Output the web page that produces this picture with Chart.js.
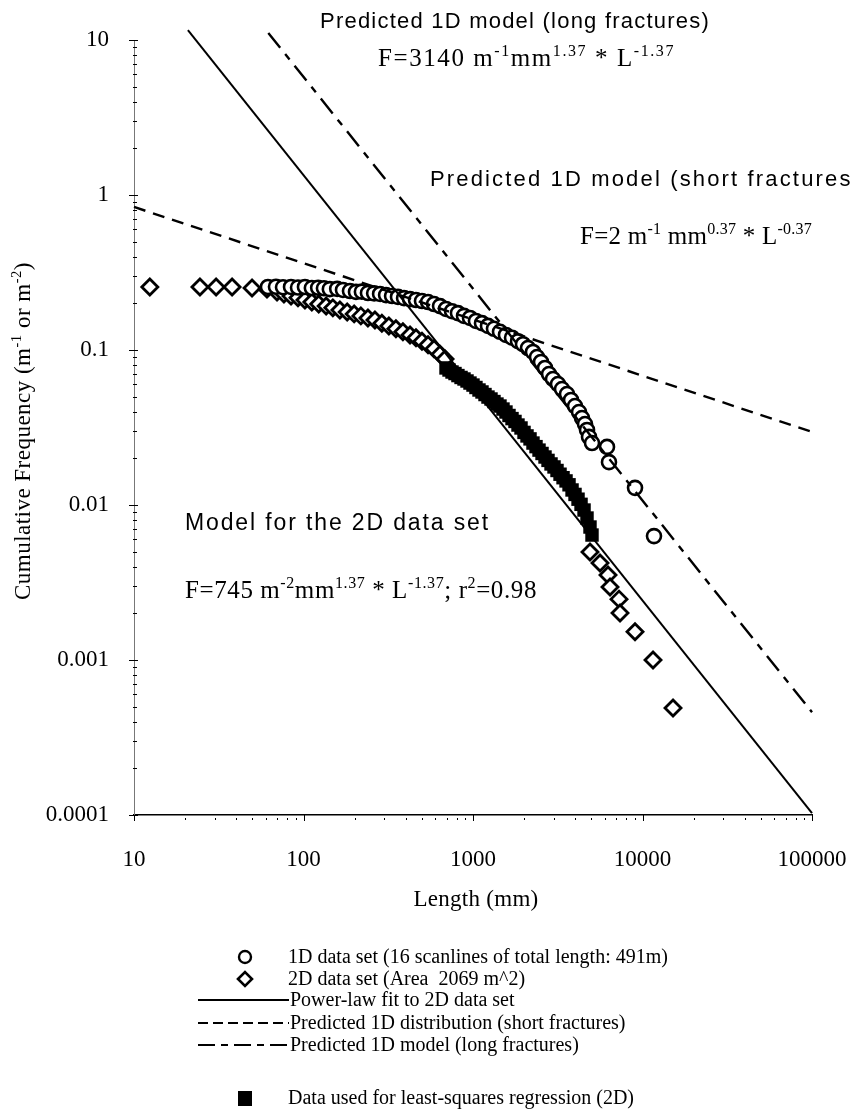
<!DOCTYPE html>
<html><head><meta charset="utf-8">
<script src="https://cdn.jsdelivr.net/npm/chart.js@4.4.1/dist/chart.umd.min.js"></script>
<style>html,body{margin:0;padding:0;background:#fff;}canvas{display:block;}</style>
</head><body>
<canvas id="c" width="851" height="1113" style="width:851px;height:1113px"></canvas>
<script>
// ---------------- DATA ----------------
// 1D data set (circles): length (mm) and cumulative frequency
const oneD_L = [61.7, 68.8, 75.7, 84.4, 92.8, 102, 112, 122, 132, 143, 158, 171, 188, 204, 221, 240, 261, 283, 307, 333, 361, 392, 425, 461, 500, 543, 589, 639, 693, 752, 815, 885, 960, 1041, 1130, 1226, 1330, 1443, 1565, 1699, 1843, 1972, 2111, 2259, 2386, 2519, 2660, 2809, 2965, 3173, 3351, 3586, 3787, 3998, 4222, 4397, 4580, 4706, 4836, 5036, 6174, 6343, 9034, 11690];
const oneD_F = [0.255, 0.256, 0.254, 0.255, 0.253, 0.255, 0.251, 0.252, 0.250, 0.247, 0.248, 0.244, 0.240, 0.237, 0.238, 0.233, 0.232, 0.230, 0.226, 0.223, 0.220, 0.216, 0.213, 0.210, 0.207, 0.204, 0.198, 0.192, 0.184, 0.178, 0.173, 0.166, 0.161, 0.154, 0.149, 0.143, 0.137, 0.131, 0.125, 0.120, 0.114, 0.109, 0.103, 0.0971, 0.0901, 0.0837, 0.0766, 0.0700, 0.0650, 0.0603, 0.0560, 0.0520, 0.0476, 0.0435, 0.0398, 0.0364, 0.0333, 0.0305, 0.0275, 0.0251, 0.0237, 0.0189, 0.0129, 0.0063];
// 2D data set (diamonds), points not used in the regression
const twoD_L = [12.4, 24.5, 30.5, 37.9, 49.7, 60.9, 69.8, 76.7, 84.4, 92.8, 102, 112, 123, 136, 149, 164, 181, 199, 218, 240, 264, 290, 319, 351, 386, 425, 461, 500, 543, 589, 639, 684, 4901, 5615, 6259, 6432, 7269, 7368, 9034, 11535, 15136];
const twoD_F = [0.255, 0.255, 0.255, 0.255, 0.251, 0.247, 0.237, 0.230, 0.223, 0.217, 0.210, 0.204, 0.198, 0.192, 0.187, 0.181, 0.176, 0.171, 0.166, 0.161, 0.156, 0.149, 0.143, 0.137, 0.131, 0.125, 0.120, 0.114, 0.108, 0.102, 0.094, 0.0875, 0.00497, 0.00422, 0.00353, 0.00296, 0.00247, 0.00201, 0.00152, 0.00100, 0.00049];
// 2D data used for least-squares regression (filled squares)
const reg_L = [693, 722, 752, 783, 815, 850, 885, 922, 960, 1000, 1041, 1085, 1130, 1177, 1226, 1277, 1330, 1385, 1443, 1503, 1565, 1631, 1699, 1769, 1843, 1920, 2000, 2083, 2170, 2259, 2354, 2452, 2554, 2660, 2771, 2886, 3006, 3131, 3262, 3398, 3539, 3686, 3840, 3998, 4166, 4339, 4520, 4706, 4901, 5036];
const reg_F = [0.0766, 0.0743, 0.0721, 0.0705, 0.0684, 0.0665, 0.0650, 0.0631, 0.0612, 0.0594, 0.0573, 0.0552, 0.0536, 0.0516, 0.0497, 0.0483, 0.0465, 0.0448, 0.0435, 0.0416, 0.0398, 0.0378, 0.0361, 0.0346, 0.0328, 0.0314, 0.0294, 0.0279, 0.0267, 0.0251, 0.0238, 0.0226, 0.0215, 0.0204, 0.0194, 0.0184, 0.0176, 0.0167, 0.0158, 0.0150, 0.0143, 0.0135, 0.0125, 0.0117, 0.0109, 0.0101, 0.00928, 0.00824, 0.00721, 0.00640];
// model lines (end points)
const fit2D_L = [20.8, 100000];
const fit2D_F = [11.6, 0.000103];
const short1D_L = [10, 100000];
const short1D_F = [0.837, 0.0296];
const long1D_L = [62, 100000];
const long1D_F = [11.1, 0.00046];
// axis ticks
const xTickValues = [10, 100, 1000, 10000, 100000];
const xTickLabels = ['10', '100', '1000', '10000', '100000'];
const yTickValues = [0.0001, 0.001, 0.01, 0.1, 1, 10];
const yTickLabels = ['0.0001', '0.001', '0.01', '0.1', '1', '10'];
const legendLabels = [
  '1D data set (16 scanlines of total length: 491m)',
  '2D data set (Area  2069 m^2)',
  'Power-law fit to 2D data set',
  'Predicted 1D distribution (short fractures)',
  'Predicted 1D model (long fractures)',
  'Data used for least-squares regression (2D)'
];

// ---------------- HELPERS ----------------
const SERIF = '"Liberation Serif","Times New Roman",serif';
const SANS = '"Liberation Sans",Arial,sans-serif';
const pts = (xs, ys) => xs.map((x, i) => ({x: x, y: ys[i]}));
const SUPR = 0.64;

function richWidth(ctx, segs, size, family) {
  let w = 0;
  for (const [t, k] of segs) {
    ctx.font = (k === 'sup' ? size * SUPR : size) + 'px ' + family;
    w += ctx.measureText(t).width;
  }
  return w;
}
function drawRich(ctx, segs, x, y, size, family, target, align) {
  ctx.save();
  if ('letterSpacing' in ctx) ctx.letterSpacing = '0px';
  const nat = richWidth(ctx, segs, size, family);
  const n = segs.reduce((a, s) => a + s[0].length, 0);
  let sx = 1;
  if (target) {
    if ('letterSpacing' in ctx) ctx.letterSpacing = ((target - nat) / n).toFixed(3) + 'px';
    else sx = target / nat;
  }
  const w = target || nat;
  const x0 = align === 'center' ? x - w / 2 : x;
  ctx.translate(x0, y);
  ctx.scale(sx, 1);
  ctx.fillStyle = '#000';
  ctx.textAlign = 'left';
  ctx.textBaseline = 'alphabetic';
  let pos = 0;
  for (const [t, k] of segs) {
    const sz = k === 'sup' ? size * SUPR : size;
    ctx.font = sz + 'px ' + family;
    ctx.fillText(t, pos, k === 'sup' ? -size * 0.4 : 0);
    pos += ctx.measureText(t).width;
  }
  ctx.restore();
}

const DASH_SHORT = [12, 8];
const DASH_LONG = [19, 8, 7, 8];

const decor = {
  id: 'decor',
  afterDraw(chart) {
    const ctx = chart.ctx;
    const xs = chart.scales.x, ys = chart.scales.y;
    const a = chart.chartArea;
    ctx.save();
    ctx.strokeStyle = '#000';
    ctx.lineWidth = 1;
    for (let e = -4; e <= 1; e++) {
      for (let m = 1; m <= 9; m++) {
        const v = m * Math.pow(10, e);
        if (v > 10.0001) break;
        const py = Math.round(ys.getPixelForValue(v)) + 0.5;
        ctx.beginPath();
        if (m === 1) { ctx.moveTo(a.left - 5, py); ctx.lineTo(a.left + 4, py); }
        else { ctx.moveTo(a.left - 1, py); ctx.lineTo(a.left + 3, py); }
        ctx.stroke();
      }
    }
    for (let e = 1; e <= 5; e++) {
      for (let m = 1; m <= 9; m++) {
        const v = m * Math.pow(10, e);
        if (v > 100000.1) break;
        const px = Math.round(xs.getPixelForValue(v)) + 0.5;
        ctx.beginPath();
        if (m === 1) { ctx.moveTo(px, a.bottom); ctx.lineTo(px, a.bottom + 6); }
        else { ctx.moveTo(px, a.bottom + 3); ctx.lineTo(px, a.bottom + 5); }
        ctx.stroke();
      }
    }
    ctx.restore();

    drawRich(ctx, [['Predicted 1D model (long fractures)', '']], 320, 28, 22, SANS, 390);
    drawRich(ctx, [['F=3140 m', ''], ['-1', 'sup'], ['mm', ''], ['1.37', 'sup'], [' * L', ''], ['-1.37', 'sup']], 378, 66, 25, SERIF, 297);
    drawRich(ctx, [['Predicted 1D model (short fractures)', '']], 430, 186, 22, SANS, 432);
    drawRich(ctx, [['F=2 m', ''], ['-1', 'sup'], [' mm', ''], ['0.37', 'sup'], [' * L', ''], ['-0.37', 'sup']], 580, 244, 25, SERIF, 232);
    drawRich(ctx, [['Model for the 2D data set', '']], 185, 530, 23, SANS, 305);
    drawRich(ctx, [['F=745 m', ''], ['-2', 'sup'], ['mm', ''], ['1.37', 'sup'], [' * L', ''], ['-1.37', 'sup'], ['; r', ''], ['2', 'sup'], ['=0.98', '']], 185, 598, 25, SERIF, 352);

    drawRich(ctx, [['Length (mm)', '']], 476, 906, 23, SERIF, 125, 'center');
    ctx.save();
    ctx.translate(30, 431);
    ctx.rotate(-Math.PI / 2);
    drawRich(ctx, [['Cumulative Frequency (m', ''], ['-1', 'sup'], [' or m', ''], ['-2', 'sup'], [')', '']], 0, 0, 23, SERIF, 338, 'center');
    ctx.restore();

    ctx.save();
    const rows = [957, 979, 1000, 1023, 1045, 1098];
    const base = [963, 985, 1006, 1029, 1051, 1104];
    const mx = 245;
    ctx.lineWidth = 2.4; ctx.strokeStyle = '#000'; ctx.fillStyle = '#fff';
    ctx.beginPath(); ctx.arc(mx, rows[0], 6, 0, Math.PI * 2); ctx.fill(); ctx.stroke();
    ctx.lineWidth = 2.6;
    ctx.beginPath(); ctx.moveTo(mx - 7, rows[1]); ctx.lineTo(mx, rows[1] - 7); ctx.lineTo(mx + 7, rows[1]); ctx.lineTo(mx, rows[1] + 7); ctx.closePath(); ctx.fill(); ctx.stroke();
    const lx0 = 198, lx1 = 289;
    ctx.lineWidth = 2;
    ctx.setLineDash([]); ctx.beginPath(); ctx.moveTo(lx0, rows[2]); ctx.lineTo(lx1, rows[2]); ctx.stroke();
    ctx.setLineDash([10, 5]); ctx.beginPath(); ctx.moveTo(lx0, rows[3]); ctx.lineTo(lx1, rows[3]); ctx.stroke();
    ctx.setLineDash([17, 6, 7, 6]); ctx.beginPath(); ctx.moveTo(lx0, rows[4]); ctx.lineTo(lx1, rows[4]); ctx.stroke();
    ctx.setLineDash([]);
    ctx.fillStyle = '#000';
    ctx.fillRect(mx - 7, rows[5] - 7, 14, 15);
    ctx.restore();
    const tx = [288, 288, 290, 290, 290, 288];
    for (let i = 0; i < 6; i++) drawRich(ctx, [[legendLabels[i], '']], tx[i], base[i], 20, SERIF, 0);
  }
};

Chart.defaults.font.family = SERIF;
Chart.defaults.color = '#000';

new Chart(document.getElementById('c'), {
  type: 'scatter',
  data: {
    datasets: [
      { label: legendLabels[2], data: pts(fit2D_L, fit2D_F), showLine: true, pointRadius: 0, borderColor: '#000', borderWidth: 2, clip: false, order: 0 },
      { label: legendLabels[3], data: pts(short1D_L, short1D_F), showLine: true, pointRadius: 0, borderColor: '#000', borderWidth: 2.4, borderDash: DASH_SHORT, clip: false, order: 1 },
      { label: legendLabels[4], data: pts(long1D_L, long1D_F), showLine: true, pointRadius: 0, borderColor: '#000', borderWidth: 2.4, borderDash: DASH_LONG, clip: false, order: 2 },
      { label: legendLabels[5], data: pts(reg_L, reg_F), pointStyle: 'rect', pointRadius: 9.5, backgroundColor: '#000', borderColor: '#000', borderWidth: 0, order: 3 },
      { label: legendLabels[0], data: pts(oneD_L, oneD_F), pointStyle: 'circle', pointRadius: 7, backgroundColor: '#fff', borderColor: '#000', borderWidth: 2.6, order: 4 },
      { label: legendLabels[1], data: pts(twoD_L, twoD_F), pointStyle: 'rectRot', pointRadius: 8, backgroundColor: '#fff', borderColor: '#000', borderWidth: 2.8, order: 5 }
    ]
  },
  options: {
    responsive: false,
    animation: false,
    events: [],
    layout: { padding: { left: 0, right: 39, top: 40, bottom: 0 } },
    plugins: { legend: { display: false }, tooltip: { enabled: false }, title: { display: false } },
    scales: {
      x: {
        type: 'logarithmic', min: 10, max: 100000, position: 'bottom',
        afterFit: s => { s.height = 298; s.paddingLeft = 0; s.paddingRight = 0; },
        afterBuildTicks: s => { s.ticks = xTickValues.map(v => ({ value: v })); },
        grid: { display: false },
        border: { display: true, color: '#000', width: 1.5 },
        ticks: {
          autoSkip: false, maxRotation: 0, padding: 23,
          font: { family: SERIF, size: 23 }, color: '#000',
          callback: v => { const i = xTickValues.findIndex(t => Math.abs(t - v) / t < 1e-6); return i >= 0 ? xTickLabels[i] : ''; }
        }
      },
      y: {
        type: 'logarithmic', min: 0.0001, max: 10, position: 'left',
        afterFit: s => { s.width = 134; s.paddingTop = 0; s.paddingBottom = 0; },
        afterBuildTicks: s => { s.ticks = yTickValues.map(v => ({ value: v })); },
        grid: { display: false },
        border: { display: true, color: '#777', width: 1 },
        ticks: {
          autoSkip: false, padding: 17,
          font: { family: SERIF, size: 23 }, color: '#000',
          callback: v => { const i = yTickValues.findIndex(t => Math.abs(t - v) / t < 1e-6); return i >= 0 ? yTickLabels[i] : ''; }
        }
      }
    }
  },
  plugins: [decor]
});
</script>
</body></html>
